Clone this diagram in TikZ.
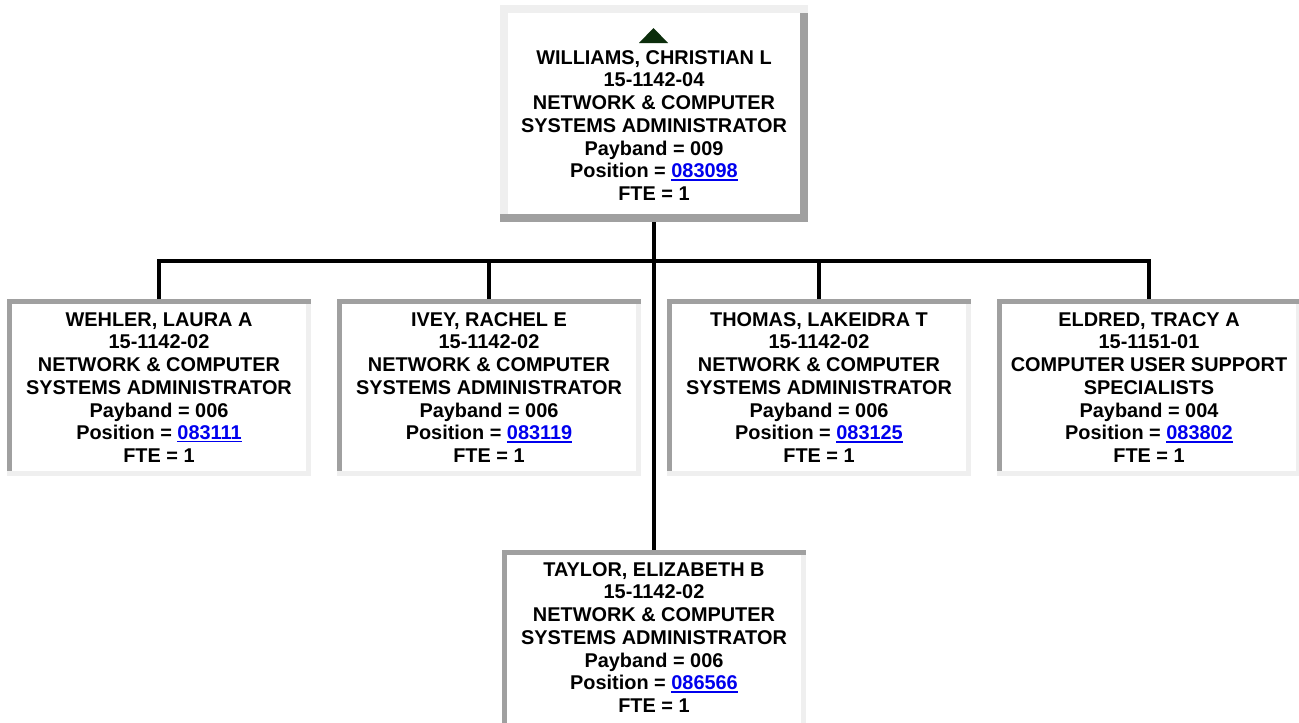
\documentclass[tikz,border=0pt]{standalone}
\usepackage{fontspec}
\setmainfont{Liberation Sans}
\usetikzlibrary{calc}
\definecolor{bdlight}{RGB}{239,239,239}
\definecolor{bddark}{RGB}{160,160,160}
\definecolor{linkblue}{RGB}{0,0,238}
\definecolor{tricol}{RGB}{12,45,12}
\newcommand\lnk[1]{{\color{linkblue}\setbox0\hbox{#1}\rlap{\rule[-2.6pt]{\wd0}{1.8pt}}\box0}}
\tikzset{
  boxbase/.style={inner sep=0pt, outer sep=0pt, fill=white},
  outsetbox/.style={boxbase, minimum width=308pt, minimum height=217pt,
    path picture={
      \coordinate (pSW) at (path picture bounding box.south west);
      \coordinate (pNE) at (path picture bounding box.north east);
      \fill[bdlight] (pSW) rectangle (pNE);
      \fill[bddark] (pSW) rectangle ($(pNE |- pSW)+(0pt,8pt)$);
      \fill[bddark] ($(pNE)+(-8pt,-8pt)$) rectangle (pNE |- pSW);
      \fill[white] ($(pSW)+(8pt,8pt)$) rectangle ($(pNE)+(-8pt,-8pt)$);
    }},
  insetbox/.style={boxbase, minimum width=304pt, minimum height=177pt,
    path picture={
      \coordinate (pSW) at (path picture bounding box.south west);
      \coordinate (pNE) at (path picture bounding box.north east);
      \fill[bddark] (pSW) rectangle (pNE);
      \fill[bdlight] (pSW) rectangle ($(pNE |- pSW)+(0pt,5pt)$);
      \fill[bdlight] ($(pNE)+(-5pt,-5pt)$) rectangle (pNE |- pSW);
      \fill[white] ($(pSW)+(5pt,5pt)$) rectangle ($(pNE)+(-5pt,-5pt)$);
    }},
  txt/.style={align=center, inner sep=0pt, font=\fontsize{19.9}{22.75}\selectfont\bfseries},
  conn/.style={draw=black, line width=4.6pt, line join=miter}
}
\begin{document}
\begin{tikzpicture}[x=1pt,y=-1pt]
\useasboundingbox (0,0) rectangle (1299,723);
\fill[white] (0,0) rectangle (1299,723);

% top box
\node[outsetbox] (top) at (654,113.5) {};
\fill[tricol] (639,43) -- (668,43) -- (653.5,28) -- cycle;
\node[txt] (toptxt) at (654,125.5) {WILLIAMS, CHRISTIAN L\\15-1142-04\\NETWORK \& COMPUTER\\SYSTEMS ADMINISTRATOR\\Payband = 009\\Position = \lnk{083098}\\FTE = 1};

% children
\node[insetbox] (c1) at (159,387.5) {};
\node[txt] (c1t) at (159,387.5) {WEHLER, LAURA A\\15-1142-02\\NETWORK \& COMPUTER\\SYSTEMS ADMINISTRATOR\\Payband = 006\\Position = \lnk{083111}\\FTE = 1};
\node[insetbox] (c2) at (489,387.5) {};
\node[txt] (c2t) at (489,387.5) {IVEY, RACHEL E\\15-1142-02\\NETWORK \& COMPUTER\\SYSTEMS ADMINISTRATOR\\Payband = 006\\Position = \lnk{083119}\\FTE = 1};
\node[insetbox] (c3) at (819,387.5) {};
\node[txt] (c3t) at (819,387.5) {THOMAS, LAKEIDRA T\\15-1142-02\\NETWORK \& COMPUTER\\SYSTEMS ADMINISTRATOR\\Payband = 006\\Position = \lnk{083125}\\FTE = 1};
\node[insetbox] (c4) at (1149,387.5) {};
\node[txt] (c4t) at (1149,387.5) {ELDRED, TRACY A\\15-1151-01\\COMPUTER USER SUPPORT\\SPECIALISTS\\Payband = 004\\Position = \lnk{083802}\\FTE = 1};

% bottom box
\node[insetbox, minimum height=182pt] (bot) at (654,641) {};
\node[txt] (bott) at (654,637.5) {TAYLOR, ELIZABETH B\\15-1142-02\\NETWORK \& COMPUTER\\SYSTEMS ADMINISTRATOR\\Payband = 006\\Position = \lnk{086566}\\FTE = 1};

% connectors
\coordinate (bar) at (654,261);
\draw[conn] (c1.north) -- (c1.north |- bar) -- (c4.north |- bar) -- (c4.north);
\draw[conn] (c2.north) -- (c2.north |- bar);
\draw[conn] (c3.north) -- (c3.north |- bar);
\draw[conn] (top.south) -- (bot.north);
\end{tikzpicture}
\end{document}
